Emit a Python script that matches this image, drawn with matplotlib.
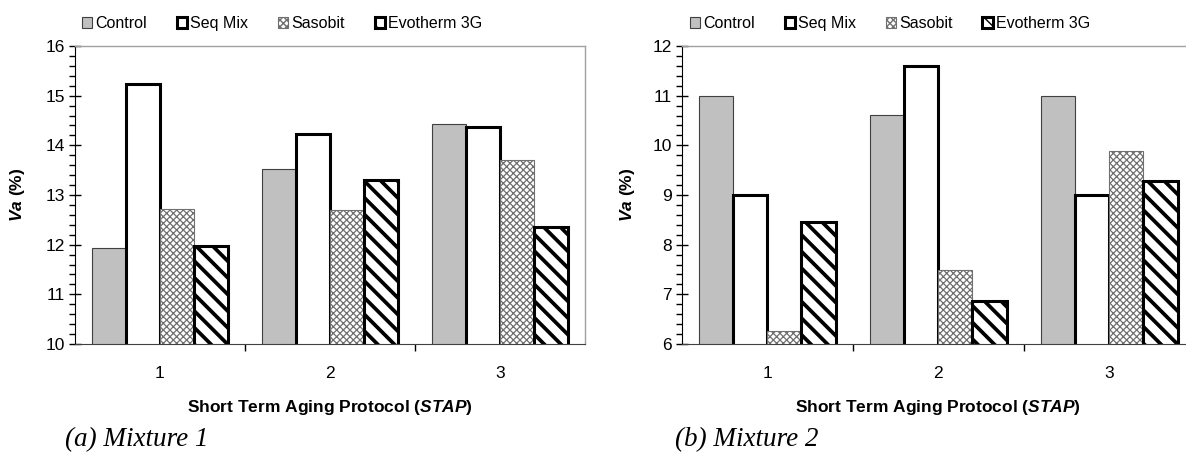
import matplotlib
matplotlib.use("Agg")
import matplotlib.pyplot as plt
import numpy as np

plt.rcParams['font.family'] = ['Liberation Sans', 'DejaVu Sans']
plt.rcParams['mathtext.fontset'] = 'custom'
plt.rcParams['mathtext.rm'] = 'Liberation Sans:bold'
plt.rcParams['mathtext.it'] = 'Liberation Sans:italic:bold'
plt.rcParams['mathtext.bf'] = 'Liberation Sans:bold'
plt.rcParams['mathtext.bfit'] = 'Liberation Sans:italic:bold'

categories = ['1', '2', '3']
series = ['Control', 'Seq Mix', 'Sasobit', 'Evotherm 3G']
mix1 = {
    'Control': [11.93, 13.52, 14.42],
    'Seq Mix': [15.24, 14.23, 14.37],
    'Sasobit': [12.71, 12.69, 13.71],
    'Evotherm 3G': [11.97, 13.31, 12.35],
}
mix2 = {
    'Control': [11.0, 10.61, 11.0],
    'Seq Mix': [9.0, 11.6, 8.99],
    'Sasobit': [6.27, 7.49, 9.88],
    'Evotherm 3G': [8.45, 6.86, 9.28],
}
captions = ['(a) Mixture 1', '(b) Mixture 2']
ylims = [(10, 16), (6, 12)]

styles = {
    'Control': dict(facecolor='#C0C0C0', edgecolor='#404040', linewidth=0.8, hatch=None, hlw=1.0),
    'Seq Mix': dict(facecolor='white', edgecolor='black', linewidth=2.2, hatch=None, hlw=1.0),
    'Sasobit': dict(facecolor='white', edgecolor='#707070', linewidth=0.8, hatch='xxxxx', hlw=0.9),
    'Evotherm 3G': dict(facecolor='white', edgecolor='black', linewidth=2.2, hatch='\\\\', hlw=2.7),
}

W, H = 1186, 454
fig = plt.figure(figsize=(W / 100, H / 100), dpi=100)

axes_px = [(75, 585), (681.7, 1194.7)]
ylabel_px = [27, 637]
legend_px = [82, 690]
caption_px = [65, 675]
top_px, bot_px = 46, 344

x = np.arange(len(categories)) + 1
bw = 0.2

for k, (data, (l, r)) in enumerate(zip([mix1, mix2], axes_px)):
    ax = fig.add_axes([l / W, 1 - bot_px / H, (r - l) / W, (bot_px - top_px) / H])
    handles = []
    for i, s in enumerate(series):
        st = styles[s]
        with plt.rc_context({'hatch.linewidth': st['hlw']}):
            bars = ax.bar(x + (i - 1.5) * bw, data[s], width=bw, bottom=0,
                          facecolor=st['facecolor'], edgecolor=st['edgecolor'],
                          linewidth=st['linewidth'], hatch=st['hatch'], zorder=3,
                          label=s)
            for b in bars:
                try:
                    b.set_hatch_linewidth(st['hlw'])
                except Exception:
                    pass
        handles.append(bars)
    ax.set_ylim(*ylims[k])
    ax.set_xlim(0.5, 3.5)
    ax.set_yticks(np.arange(ylims[k][0], ylims[k][1] + 0.5, 1))
    ax.set_yticks(np.arange(ylims[k][0], ylims[k][1] + 0.01, 0.2), minor=True)
    ax.tick_params(axis='y', which='major', direction='inout', length=8, width=1, labelsize=12.5, pad=3)
    ax.tick_params(axis='y', which='minor', direction='out', length=4, width=1)
    ax.set_xticks([1.5, 2.5], minor=True)
    ax.set_xticks(x)
    ax.set_xticklabels(categories)
    ax.tick_params(axis='x', which='major', length=0, labelsize=12.5, pad=16)
    ax.tick_params(axis='x', which='minor', direction='out', length=5, width=1)
    for sp in ['top', 'right']:
        ax.spines[sp].set_color('#A0A0A0')
        ax.spines[sp].set_linewidth(1)
    ax.spines['left'].set_color('black')
    ax.spines['bottom'].set_color('#404040')
    ax.spines['bottom'].set_zorder(4)
    ax.set_xlabel(r'Short Term Aging Protocol ($\mathbfit{STAP}$)', fontsize=12.5,
                  fontweight='bold', labelpad=12)
    ax.set_ylabel(r'$\mathbfit{Va}$ (%)', fontsize=12.5, fontweight='bold')
    ax.yaxis.set_label_coords((ylabel_px[k] - l) / (r - l), 0.5)
    ax.legend(handles=handles, labels=series, ncol=4, loc='lower left',
              bbox_to_anchor=((legend_px[k] - l) / (r - l), 1.05), frameon=False, fontsize=11.5,
              handlelength=0.65, handleheight=0.7, handletextpad=0.2,
              columnspacing=1.85, borderaxespad=0, borderpad=0)
    fig.text(caption_px[k] / W, 1 - 440 / H, captions[k], fontsize=19.5, style='italic',
             family='Liberation Serif', va='center', ha='left')

fig.savefig('out.png', dpi=100)
